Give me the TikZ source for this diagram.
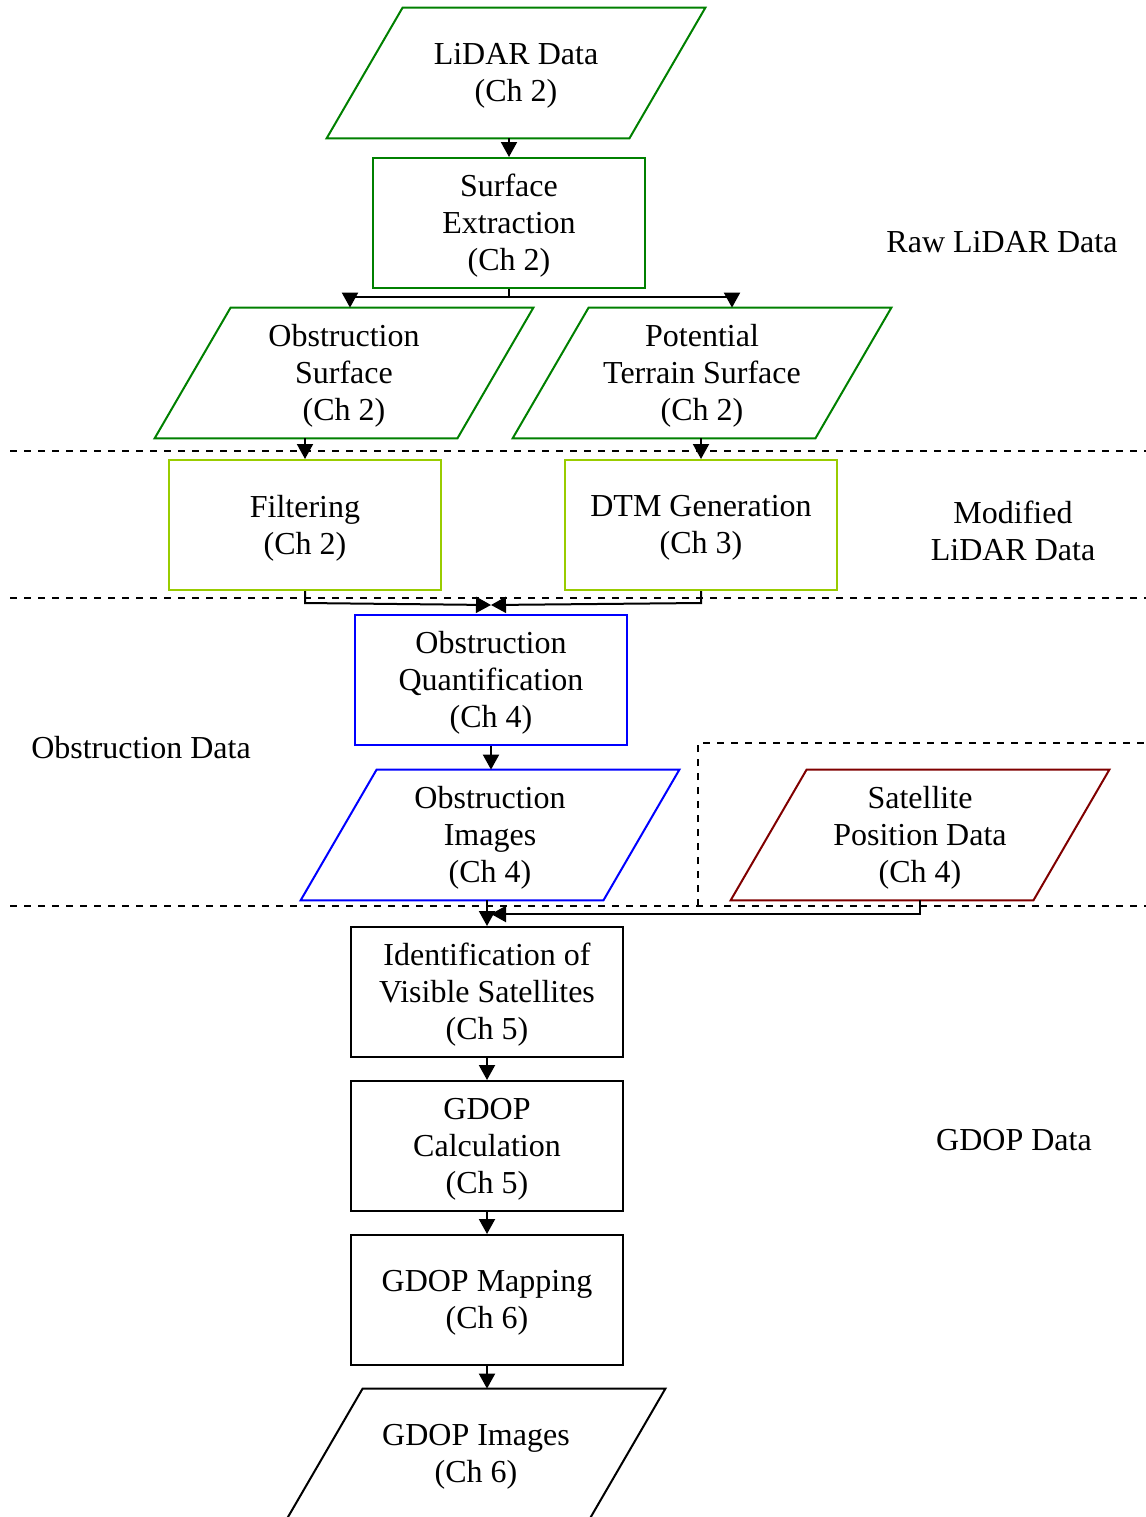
\documentclass[tikz,border=0pt]{standalone}
\usepackage{fontspec}
\setmainfont{Liberation Serif}
\usetikzlibrary{arrows.meta,calc}
\definecolor{dgreen}{RGB}{0,128,0}
\definecolor{ygreen}{RGB}{153,204,0}
\definecolor{dred}{RGB}{128,0,0}
\newcommand\drawpara[2]{\draw[line width=1pt,#2] ($(#1.north west)+(76,0)$) -- (#1.north east) -- ($(#1.south east)+(-76,0)$) -- (#1.south west) -- cycle;}
\begin{document}
\begin{tikzpicture}[x=0.5pt,y=-0.5pt,font=\fontsize{16}{18.5}\selectfont,
  box/.style={draw, line width=1pt, minimum width=136pt, minimum height=65pt, inner sep=0pt},
  para/.style={minimum width=189pt, minimum height=65pt, inner sep=0pt},
  txt/.style={align=center, inner sep=0pt, text=black},
  lbl/.style={align=center, inner sep=0pt},
  conn/.style={line width=1pt, -{Triangle[length=7.5pt,width=8pt]}},
  sep/.style={line width=1pt, dash pattern=on 3.5pt off 3.5pt}]
\useasboundingbox (0,0) rectangle (1146,1517);
% separators
\draw[sep] (10,451) -- (1146,451);
\draw[sep] (10,598) -- (1146,598);
\draw[sep] (10,906) -- (1146,906);
\draw[sep] (698,906) -- (698,743) -- (1146,743);
% shapes
\node[para] (lid) at (516,73) {};
\drawpara{lid}{dgreen}
\node[box, dgreen] (se) at (509,223) {};
\node[para] (os) at (344,373) {};
\drawpara{os}{dgreen}
\node[para] (pt) at (702,373) {};
\drawpara{pt}{dgreen}
\node[box, ygreen] (filt) at (305,525) {};
\node[box, ygreen] (dtm) at (701,525) {};
\node[box, blue] (oq) at (491,680) {};
\node[para] (oi) at (490,835) {};
\drawpara{oi}{blue}
\node[para] (sat) at (920,835) {};
\drawpara{sat}{dred}
\node[box] (id) at (487,992) {};
\node[box] (calc) at (487,1146) {};
\node[box] (map) at (487,1300) {};
\node[para] (gi) at (476,1454) {};
\drawpara{gi}{black}
% texts
\node[txt] (lidT) at ($(lid)+(0,3)$) {LiDAR Data\\(Ch 2)};
\node[txt] (seT) at ($(se)+(0,3)$) {Surface\\Extraction\\(Ch 2)};
\node[txt] (osT) at ($(os)+(0,3)$) {Obstruction\\Surface\\(Ch 2)};
\node[txt] (ptT) at ($(pt)+(0,3)$) {Potential\\Terrain Surface\\(Ch 2)};
\node[txt] (filtT) at ($(filt)+(0,3)$) {Filtering\\(Ch 2)};
\node[txt] (dtmT) at ($(dtm)+(0,3)$) {DTM Generation\\(Ch 3)};
\node[txt] (oqT) at ($(oq)+(0,3)$) {Obstruction\\Quantification\\(Ch 4)};
\node[txt] (oiT) at ($(oi)+(0,3)$) {Obstruction\\Images\\(Ch 4)};
\node[txt] (satT) at ($(sat)+(0,3)$) {Satellite\\Position Data\\(Ch 4)};
\node[txt] (idT) at ($(id)+(0,3)$) {Identification of\\Visible Satellites\\(Ch 5)};
\node[txt] (calcT) at ($(calc)+(0,3)$) {GDOP\\Calculation\\(Ch 5)};
\node[txt] (mapT) at ($(map)+(0,3)$) {GDOP Mapping\\(Ch 6)};
\node[txt] (giT) at ($(gi)+(0,3)$) {GDOP Images\\(Ch 6)};
% side labels
\node[lbl] (l1) at (1002,242) {Raw LiDAR Data};
\node[lbl] (l2) at (1013,531) {Modified\\LiDAR Data};
\node[lbl] (l3) at (141,748) {Obstruction Data};
\node[lbl] (l4) at (1014,1140) {GDOP Data};
% connectors
\draw[conn] (lid.south -| se.north) -- (se.north);
\draw[conn] (se.south) -- ++(0,8) -| ($(os.north)+(6,0)$);
\draw[conn] (se.south) -- ++(0,8) -| ($(pt.north)+(30,0)$);
\draw[conn] (os.south -| filt.north) -- (filt.north);
\draw[conn] (pt.south -| dtm.north) -- (dtm.north);
\draw[conn] (filt.south) -- ++(0,12) -- ($(oq.north)+(0,-9)$);
\draw[conn] (dtm.south) -- ++(0,12) -- ($(oq.north)+(0,-9)$);
\draw[conn] (oq.south) -- (oq.south |- oi.north);
\draw[conn] (oi.south -| id.north) -- (id.north);
\draw[conn] (sat.south) |- ($(id.north)+(4,-12)$);
\draw[conn] (id.south) -- (calc.north);
\draw[conn] (calc.south) -- (map.north);
\draw[conn] (map.south) -- (map.south |- gi.north);
\end{tikzpicture}
\end{document}
